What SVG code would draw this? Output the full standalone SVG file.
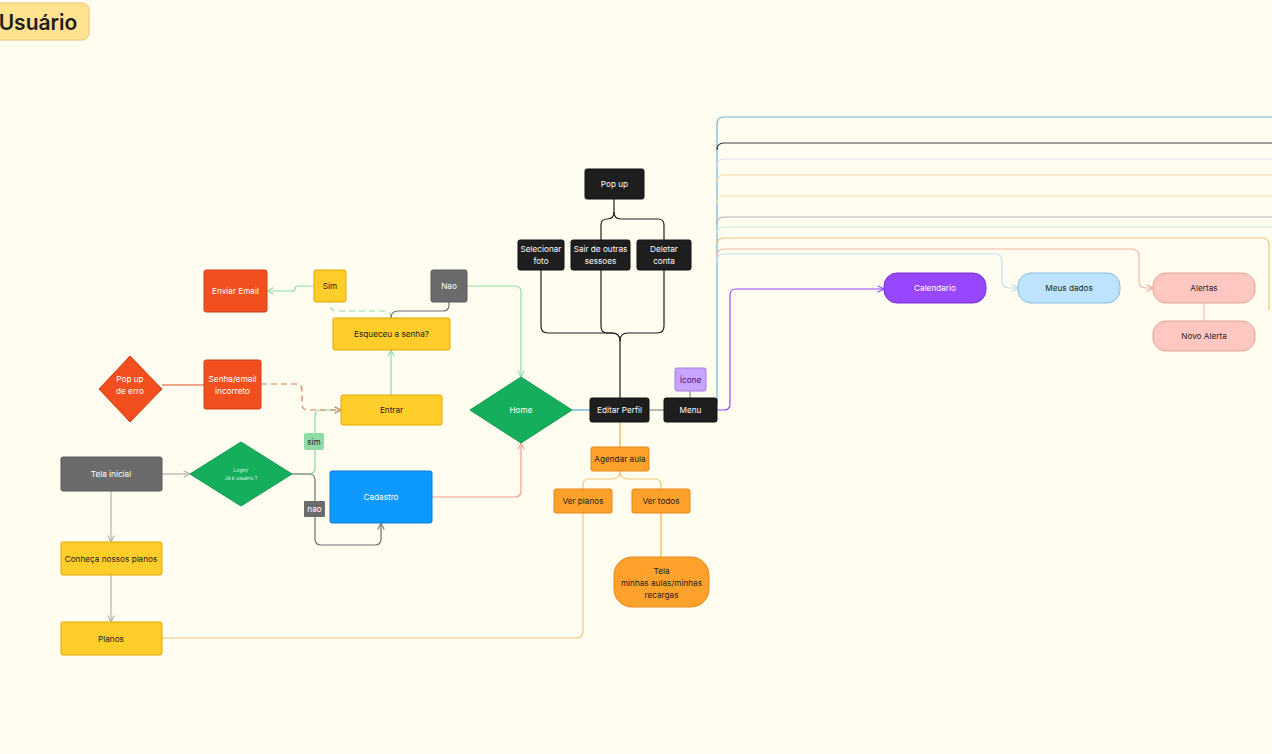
<svg xmlns="http://www.w3.org/2000/svg" width="1272" height="754" viewBox="0 0 1272 754">
<defs>
<style>
text{font-family:Inter,"Noto Sans","Liberation Sans",sans-serif;font-size:8.2px;text-anchor:middle;dominant-baseline:central}
.w{fill:#ffffff}.d{fill:#1e1e1e}
.yel{fill:#ffcd29;stroke:#e0a800;stroke-width:1}
.gry{fill:#6b6b6b;stroke:#5a5a5a;stroke-width:1}
.red{fill:#f24e1e;stroke:#d0401a;stroke-width:1}
.blk{fill:#1e1e1e;stroke:#111;stroke-width:1}
.org{fill:#ffa12b;stroke:#e5861a;stroke-width:1}
.grn{fill:#14ae5c;stroke:#109a50;stroke-width:1}
.c{fill:none;stroke-width:1.2}
</style>
<marker id="ag" viewBox="0 0 10 10" refX="9" refY="5" markerWidth="8" markerHeight="8" orient="auto-start-reverse" markerUnits="userSpaceOnUse"><path d="M1 1L9 5L1 9" fill="none" stroke="#b0b0b0" stroke-width="1.3"/></marker>
<marker id="agr" viewBox="0 0 10 10" refX="9" refY="5" markerWidth="8" markerHeight="8" orient="auto-start-reverse" markerUnits="userSpaceOnUse"><path d="M1 1L9 5L1 9" fill="none" stroke="#707070" stroke-width="1.3"/></marker>
<marker id="agn" viewBox="0 0 10 10" refX="9" refY="5" markerWidth="8" markerHeight="8" orient="auto-start-reverse" markerUnits="userSpaceOnUse"><path d="M1 1L9 5L1 9" fill="none" stroke="#8fdca8" stroke-width="1.3"/></marker>
<marker id="ard" viewBox="0 0 10 10" refX="9" refY="5" markerWidth="8" markerHeight="8" orient="auto-start-reverse" markerUnits="userSpaceOnUse"><path d="M1 1L9 5L1 9" fill="none" stroke="#e07a5a" stroke-width="1.3"/></marker>
<marker id="asl" viewBox="0 0 10 10" refX="9" refY="5" markerWidth="8" markerHeight="8" orient="auto-start-reverse" markerUnits="userSpaceOnUse"><path d="M1 1L9 5L1 9" fill="none" stroke="#f0a090" stroke-width="1.3"/></marker>
<marker id="apu" viewBox="0 0 10 10" refX="9" refY="5" markerWidth="8" markerHeight="8" orient="auto-start-reverse" markerUnits="userSpaceOnUse"><path d="M1 1L9 5L1 9" fill="none" stroke="#9747ff" stroke-width="1.3"/></marker>
<marker id="alb" viewBox="0 0 10 10" refX="9" refY="5" markerWidth="8" markerHeight="8" orient="auto-start-reverse" markerUnits="userSpaceOnUse"><path d="M1 1L9 5L1 9" fill="none" stroke="#b8dcf0" stroke-width="1.3"/></marker>
</defs>
<rect x="0" y="0" width="1272" height="754" fill="#fffcf0"/>

<g id="title">
<rect x="-8" y="3" width="97" height="37" rx="7" fill="#ffe28f" stroke="#e8c46a" stroke-width="1"/>
<text x="38" y="22" style="font-size:21px;font-weight:600" fill="#1e1e1e">Usuário</text>
</g>

<g id="connectors">
<path class="c" d="M717 404V124Q717 117 724 117H1272" stroke="#6fb4e4" stroke-width="1.6"/>
<path class="c" d="M717 150Q717 143 724 143H1272" stroke="#3a3a3a"/>
<path class="c" d="M717 166Q717 159 724 159H1272" stroke="#e6def2"/>
<path class="c" d="M717 182Q717 175 724 175H1272" stroke="#f5d6a8"/>
<path class="c" d="M717 203Q717 196 724 196H1272" stroke="#f8e4a8"/>
<path class="c" d="M717 224Q717 217 724 217H1272" stroke="#b8b8b0"/>
<path class="c" d="M717 234Q717 227 724 227H1272" stroke="#c8ecd2"/>
<path class="c" d="M717 245Q717 238 724 238H1262Q1269 238 1269 245V310" stroke="#f2c67a"/>
<path class="c" d="M717 256Q717 249 724 249H1132Q1139 249 1139 256V281Q1139 288 1146 288H1153" stroke="#f0b8a8" marker-end="url(#asl)"/>
<path class="c" d="M717 261Q717 254 724 254H995Q1002 254 1002 261V281Q1002 288 1009 288H1018" stroke="#c0e0f2" marker-end="url(#alb)"/>
<path class="c" d="M717 410H724Q730 410 730 404V295Q730 289 736 289H884" stroke="#9747ff" marker-end="url(#apu)"/>
<path class="c" d="M1204 303V321" stroke="#f0c0b8"/>

<path class="c" d="M162 474H190" stroke="#b0b0b0" marker-end="url(#ag)"/>
<path class="c" d="M111 491V542" stroke="#b0b0b0" marker-end="url(#ag)"/>
<path class="c" d="M111 575V622" stroke="#b0b0b0" marker-end="url(#ag)"/>
<path class="c" d="M162 638H576Q583 638 583 631V513" stroke="#f2c67a"/>
<path class="c" d="M292 474H309Q315 474 315 468V416Q315 410 321 410H341" stroke="#8fdca8" marker-end="url(#agn)"/>
<path class="c" d="M292 474H309Q315 474 315 480V539Q315 545 321 545H375Q381 545 381 539V523" stroke="#707070" marker-end="url(#agr)"/>
<path class="c" d="M162 385H204" stroke="#e0502c"/>
<path class="c" d="M261 384H296Q302 384 302 390V404Q302 410 308 410H341" stroke="#e07a5a" stroke-dasharray="6 4" marker-end="url(#ard)"/>
<path class="c" d="M391 395V350" stroke="#8fdca8" marker-end="url(#agn)"/>
<path class="c" d="M391 318Q391 311 384 311H337Q330 311 330 304V302" stroke="#8fdca8" stroke-dasharray="6 4"/>
<path class="c" d="M391 318Q391 311 398 311H443Q449 311 449 305V302" stroke="#707070"/>
<path class="c" d="M314 286H298Q295 286 295 289Q295 291 292 291H267" stroke="#8fdca8" marker-end="url(#agn)"/>
<path class="c" d="M467 286H515Q521 286 521 292V377" stroke="#8fdca8" marker-end="url(#agn)"/>
<path class="c" d="M432 497H515Q521 497 521 491V443" stroke="#f0a090" marker-end="url(#asl)"/>

<path class="c" d="M572 410H590" stroke="#5aa8e0" stroke-width="1.8"/>
<path class="c" d="M649 410H664" stroke="#8a8a8a"/>
<path class="c" d="M690 398V391" stroke="#8a8a8a"/>
<path class="c" d="M620 398V341" stroke="#1e1e1e"/>
<path class="c" d="M620 341Q620 333 612 333H548Q541 333 541 326V270" stroke="#1e1e1e"/>
<path class="c" d="M620 341Q620 333 612 333H607Q601 333 601 326V270" stroke="#1e1e1e"/>
<path class="c" d="M620 341Q620 333 628 333H657Q664 333 664 326V270" stroke="#1e1e1e"/>
<path class="c" d="M614 199V212Q614 219 607 219Q601 219 601 225V240" stroke="#1e1e1e"/>
<path class="c" d="M614 212Q614 219 621 219H658Q664 219 664 225V240" stroke="#1e1e1e"/>
<path class="c" d="M620 422V447" stroke="#f2b040"/>
<path class="c" d="M620 471Q620 479 612 479H589Q583 479 583 485V489" stroke="#f2c67a"/>
<path class="c" d="M620 471Q620 479 628 479H655Q661 479 661 485V489" stroke="#f2c67a"/>
<path class="c" d="M661 513V557" stroke="#f2b040"/>
</g>

<g id="tela-inicial"><rect class="gry" x="61" y="457" width="101" height="34" rx="2"/><text x="111" y="474" class="w">Tela inicial</text></g>
<g id="conheca"><rect class="yel" x="61" y="542" width="101" height="33" rx="2"/><text x="111" y="558.5" class="d">Conheça nossos planos</text></g>
<g id="planos"><rect class="yel" x="61" y="622" width="101" height="33" rx="2"/><text x="111" y="638.5" class="d">Planos</text></g>
<g id="login"><polygon class="grn" points="190,474 241,442 292,474 241,506"/><text x="241" y="470" style="font-size:5px" fill="#d8f5e0">Login/</text><text x="241" y="478" style="font-size:5px" fill="#d8f5e0">Já é usuário ?</text></g>
<g id="sim-label"><rect x="304" y="433" width="20" height="17" rx="2" fill="#8fdca8"/><text x="314" y="441.5" class="d">sim</text></g>
<g id="nao-label"><rect x="304" y="501" width="21" height="16" rx="1" fill="#6b6b6b"/><text x="314.5" y="509" class="w">nao</text></g>
<g id="cadastro"><rect x="330" y="471" width="102" height="52" rx="2" fill="#0d99ff" stroke="#0a7ad6" stroke-width="1"/><text x="381" y="497" class="w">Cadastro</text></g>
<g id="entrar"><rect class="yel" x="341" y="395" width="101" height="30" rx="2"/><text x="391.5" y="410" class="d">Entrar</text></g>
<g id="esqueceu"><rect class="yel" x="333" y="318" width="117" height="32" rx="2"/><text x="391.5" y="334" class="d">Esqueceu a senha?</text></g>
<g id="sim"><rect class="yel" x="314" y="270" width="32" height="32" rx="2"/><text x="330" y="286" class="d">Sim</text></g>
<g id="nao"><rect class="gry" x="431" y="270" width="36" height="32" rx="2"/><text x="449" y="286" class="w">Nao</text></g>
<g id="enviar-email"><rect class="red" x="204" y="270" width="63" height="42" rx="2"/><text x="235.5" y="291" class="w">Enviar Email</text></g>
<g id="senha-incorreto"><rect class="red" x="204" y="360" width="57" height="49" rx="2"/><text x="232.5" y="379" class="w">Senha/email</text><text x="232.5" y="391" class="w">incorreto</text></g>
<g id="popup-erro"><polygon class="red" points="99,389 130,356 162,389 130,422"/><text x="130" y="379" class="w">Pop up</text><text x="130" y="391" class="w">de erro</text></g>
<g id="home"><polygon class="grn" points="470,410 521,377 572,410 521,443"/><text x="521" y="410" class="w">Home</text></g>
<g id="editar-perfil"><rect class="blk" x="590" y="398" width="59" height="24" rx="2"/><text x="619.5" y="410" class="w">Editar Perfil</text></g>
<g id="menu"><rect class="blk" x="664" y="398" width="53" height="24" rx="2"/><text x="690.5" y="410" class="w">Menu</text></g>
<g id="icone"><rect x="675" y="368" width="31" height="23" rx="2" fill="#c7a4ff" stroke="#a77ce6" stroke-width="1"/><text x="690.5" y="379.5" fill="#3c1a78">Ícone</text></g>
<g id="popup"><rect class="blk" x="585" y="169" width="59" height="30" rx="2"/><text x="614.5" y="184" class="w">Pop up</text></g>
<g id="selecionar-foto"><rect class="blk" x="518" y="240" width="46" height="30" rx="2"/><text x="541" y="249" class="w">Selecionar</text><text x="541" y="261" class="w">foto</text></g>
<g id="sair-sessoes"><rect class="blk" x="571" y="240" width="59" height="30" rx="2"/><text x="600.5" y="249" class="w">Sair de outras</text><text x="600.5" y="261" class="w">sessoes</text></g>
<g id="deletar-conta"><rect class="blk" x="637" y="240" width="54" height="30" rx="2"/><text x="664" y="249" class="w">Deletar</text><text x="664" y="261" class="w">conta</text></g>
<g id="agendar-aula"><rect class="org" x="591" y="447" width="58" height="24" rx="2"/><text x="620" y="459" class="d">Agendar aula</text></g>
<g id="ver-planos"><rect class="org" x="554" y="489" width="58" height="24" rx="2"/><text x="583" y="501" class="d">Ver planos</text></g>
<g id="ver-todos"><rect class="org" x="632" y="489" width="58" height="24" rx="2"/><text x="661" y="501" class="d">Ver todos</text></g>
<g id="tela-minhas"><rect class="org" x="614" y="557" width="95" height="50" rx="18"/><text x="661.5" y="571" class="d">Tela</text><text x="661.5" y="583" class="d">minhas aulas/minhas</text><text x="661.5" y="595" class="d">recargas</text></g>
<g id="calendario"><rect x="884" y="273" width="102" height="30" rx="13" fill="#9747ff" stroke="#7a30d8" stroke-width="1"/><text x="935" y="288" class="w">Calendario</text></g>
<g id="meus-dados"><rect x="1018" y="273" width="102" height="30" rx="13" fill="#bde3ff" stroke="#88bde0" stroke-width="1"/><text x="1069" y="288" class="d">Meus dados</text></g>
<g id="alertas"><rect x="1153" y="273" width="102" height="30" rx="13" fill="#ffc7c2" stroke="#e0a49c" stroke-width="1"/><text x="1204" y="288" class="d">Alertas</text></g>
<g id="novo-alerta"><rect x="1153" y="321" width="102" height="30" rx="13" fill="#ffc7c2" stroke="#e0a49c" stroke-width="1"/><text x="1204" y="336" class="d">Novo Alerta</text></g>
</svg>
